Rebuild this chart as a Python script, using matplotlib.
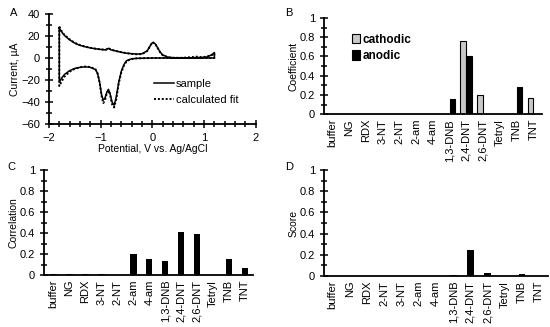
import numpy as np
import matplotlib
matplotlib.use('Agg')
import matplotlib.pyplot as plt
from matplotlib.ticker import MultipleLocator

plt.rcParams['font.family'] = ['Liberation Sans', 'DejaVu Sans']
plt.rcParams['font.size'] = 8

# --- panel A: cyclic voltammogram ---
pot_up = [-1.8, -1.75, -1.7, -1.6, -1.5, -1.4, -1.3, -1.2, -1.1, -1.0, -0.9, -0.85, -0.8,
          -0.75, -0.7, -0.6, -0.5, -0.4, -0.3, -0.2, -0.1, -0.05, 0.0, 0.05, 0.1, 0.15,
          0.2, 0.3, 0.4, 0.6, 0.75, 0.85, 0.95, 1.05, 1.15, 1.2]
cur_up_sample = [27, 23.5, 20.5, 16.5, 13.5, 11.5, 10.2, 9.2, 8.4, 7.8, 7.4, 8.8, 7.4,
                 6.9, 6.3, 5.2, 4.4, 3.9, 3.6, 3.8, 6.5, 10.5, 14, 13.2, 9.5, 5.5,
                 2.8, 0.8, 0.3, 0.1, 0.2, 0.4, 0.5, 0.9, 3, 5]
cur_up_fit = [28.5, 24, 21, 17, 13.8, 11.8, 10.4, 9.3, 8.5, 7.9, 7.5, 9.0, 7.6,
              7.0, 6.4, 5.3, 4.4, 3.8, 3.4, 3.6, 6.3, 10.3, 14.5, 13.4, 9.3, 5.2,
              2.5, 0.6, 0.2, 0.2, 0.8, 1.2, 0.8, 1.2, 2.6, 4.2]

pot_dn = [1.2, 0.5, 0.0, -0.3, -0.4, -0.45, -0.5, -0.55, -0.6, -0.65, -0.7, -0.74, -0.78,
          -0.82, -0.85, -0.88, -0.92, -0.95, -0.98, -1.02, -1.06, -1.1, -1.2, -1.3, -1.4,
          -1.5, -1.6, -1.7, -1.75, -1.8]
cur_dn_sample = [0, 0, 0, -0.3, -0.8, -1.5, -2.5, -6, -12, -22, -36, -43, -40,
                 -32, -28.5, -31, -37, -38, -34, -22, -14, -10.5, -8.5, -8, -8.5,
                 -9.5, -11.5, -15, -18, -22]
cur_dn_fit = [0, 0, 0, -0.3, -0.9, -1.8, -3, -7, -13, -23, -38, -45, -42,
              -33, -29.5, -32, -39, -41, -35, -22.5, -14, -10.3, -8.2, -7.8, -8.4,
              -9.8, -12.5, -17, -21, -25.5]

# --- panels B-D: bar charts ---
cats = ['buffer', 'NG', 'RDX', '3-NT', '2-NT', '2-am', '4-am', '1,3-DNB',
        '2,4-DNT', '2,6-DNT', 'Tetryl', 'TNB', 'TNT']
cats_d = ['buffer', 'NG', 'RDX', '2-NT', '3-NT', '2-am', '4-am', '1,3-DNB',
          '2,4-DNT', '2,6-DNT', 'Tetryl', 'TNB', 'TNT']
cathodic = [0, 0, 0, 0, 0, 0, 0, 0, 0.76, 0.20, 0, 0, 0.17]
anodic = [0, 0, 0, 0, 0, 0, 0, 0.16, 0.60, 0, 0, 0.28, 0]
correlation = [0.01, 0.006, 0.006, 0.01, 0, 0.20, 0.15, 0.135, 0.41, 0.39, 0, 0.15, 0.07]
score = [0, 0, 0, 0, 0, 0, 0, 0.005, 0.25, 0.03, 0, 0.015, 0]


def style_axes(ax):
    for s in ['top', 'right']:
        ax.spines[s].set_visible(False)
    for s in ['left', 'bottom']:
        ax.spines[s].set_linewidth(1.3)
    ax.tick_params(which='major', direction='inout', length=6, width=1.1, labelsize=8)
    ax.tick_params(which='minor', direction='inout', length=4, width=1.1)


def bar_axes(ax, labels, xlim):
    ax.set_xlim(*xlim)
    ax.set_ylim(0, 1)
    ax.set_xticks(np.arange(len(labels)))
    ax.set_xticklabels(labels, rotation=90, fontsize=8.5)
    ax.yaxis.set_major_locator(MultipleLocator(0.2))
    ax.yaxis.set_minor_locator(MultipleLocator(0.1))
    ax.yaxis.set_major_formatter(plt.FuncFormatter(lambda v, p: '%g' % round(v, 1)))
    style_axes(ax)
    ax.tick_params(axis='x', length=0)


fig = plt.figure(figsize=(5.5, 3.27), dpi=100)

# A
axA = fig.add_axes([0.089, 0.621, 0.376, 0.336])
xs = pot_up + pot_dn + [pot_up[0]]
axA.plot(xs, cur_up_sample + cur_dn_sample + [cur_up_sample[0]], color='black', lw=1.1, label='sample')
axA.plot(xs, cur_up_fit + cur_dn_fit + [cur_up_fit[0]], color='black', lw=1.4,
         linestyle=(0, (1, 1)), label='calculated fit')
axA.set_xlim(-2, 2)
axA.set_ylim(-60, 40)
axA.xaxis.set_major_locator(MultipleLocator(1))
axA.xaxis.set_minor_locator(MultipleLocator(0.2))
axA.yaxis.set_major_locator(MultipleLocator(20))
axA.yaxis.set_minor_locator(MultipleLocator(10))
style_axes(axA)
axA.set_xlabel('Potential, V vs. Ag/AgCl', fontsize=7.5, labelpad=1)
axA.set_ylabel('Current, µA', fontsize=7.5, labelpad=1)
axA.legend(loc='center left', bbox_to_anchor=(0.48, 0.29), frameon=False, fontsize=8,
           handlelength=1.8, handletextpad=0.2, labelspacing=0.5, borderpad=0)
fig.text(0.018, 0.975, 'A', fontsize=8, va='top')

# B
axB = fig.add_axes([0.589, 0.651, 0.396, 0.294])
x = np.arange(len(cats))
w = 0.35
axB.bar(x - w / 2, cathodic, width=w, color='#c8c8c8', edgecolor='black', linewidth=0.8, label='cathodic')
axB.bar(x + w / 2, anodic, width=w, color='black', edgecolor='black', linewidth=0.8, label='anodic')
bar_axes(axB, cats, (-0.5, 12.5))
axB.set_ylabel('Coefficient', fontsize=7.5, labelpad=1)
axB.legend(loc='upper left', bbox_to_anchor=(0.1, 0.9), frameon=False,
           prop={'weight': 'bold', 'size': 8.5}, handlelength=0.7, handleheight=0.9,
           handletextpad=0.2, labelspacing=0.4, borderpad=0)
fig.text(0.518, 0.975, 'B', fontsize=8, va='top')

# C
axC = fig.add_axes([0.08, 0.159, 0.380, 0.321])
axC.bar(x, correlation, width=0.4, color='black')
bar_axes(axC, cats, (-0.6, 12.5))
axC.set_ylabel('Correlation', fontsize=7.5, labelpad=1)
fig.text(0.013, 0.505, 'C', fontsize=8, va='top')

# D
axD = fig.add_axes([0.589, 0.156, 0.407, 0.324])
axD.bar(x, score, width=0.4, color='black')
bar_axes(axD, cats_d, (-0.5, 12.5))
axD.set_ylabel('Score', fontsize=7.5, labelpad=1)
fig.text(0.518, 0.505, 'D', fontsize=8, va='top')

fig.savefig('out.png', dpi=100)
